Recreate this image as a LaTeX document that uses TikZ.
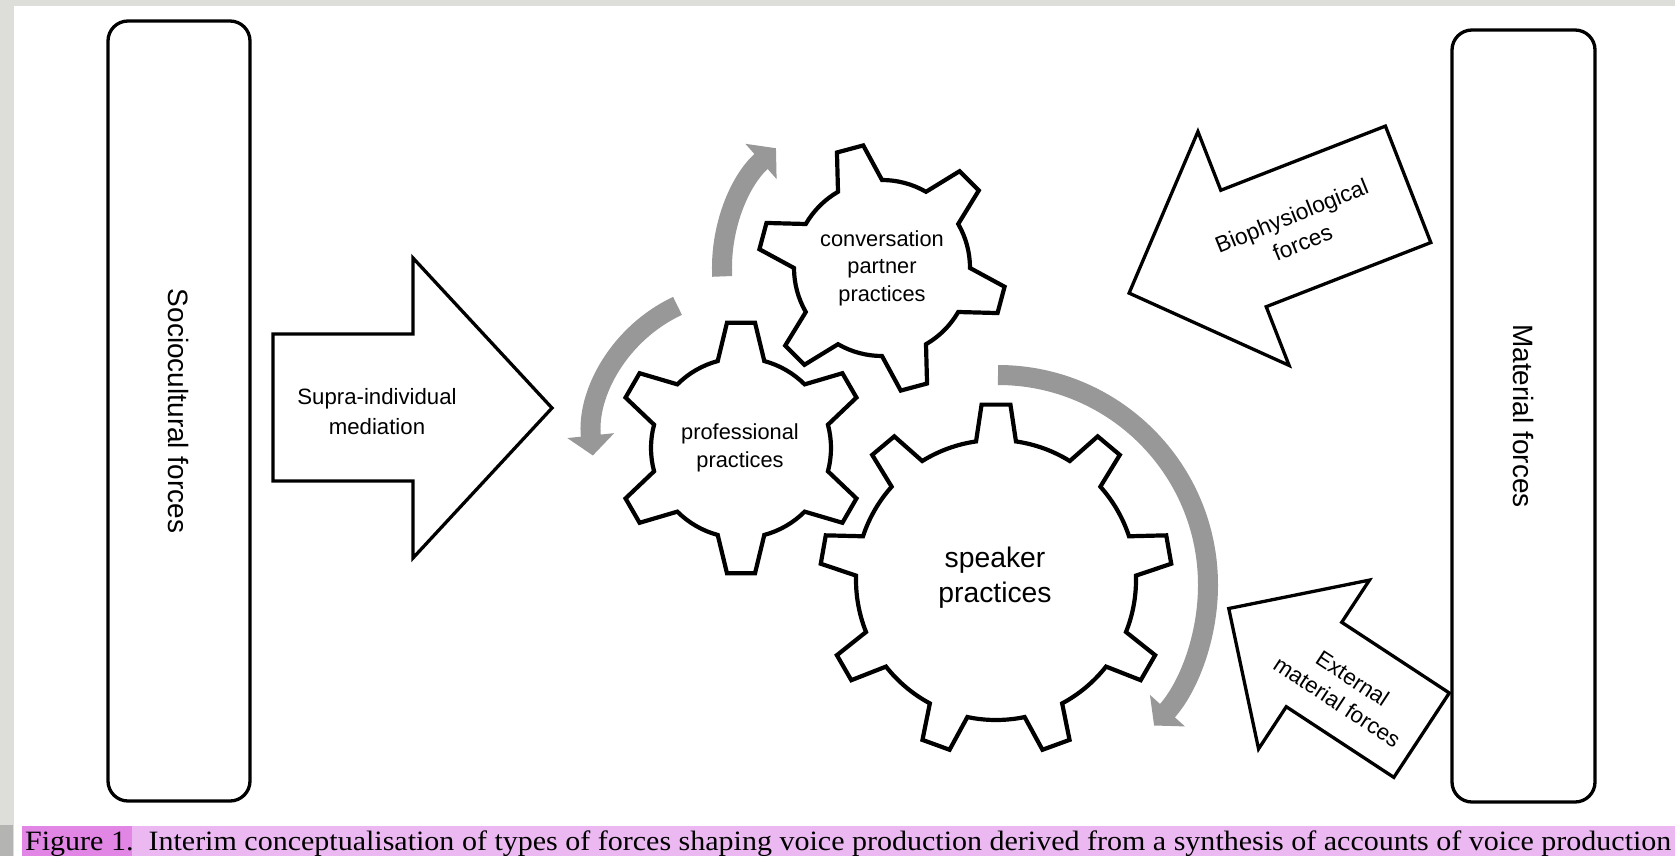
\documentclass[tikz,border=0pt]{standalone}
\usepackage{graphicx}
\usepackage{fontspec}
\setmainfont{Liberation Serif}
\newfontfamily\labelfont{Liberation Sans}
\usetikzlibrary{arrows.meta}

\definecolor{pagegray}{RGB}{221,222,217}
\definecolor{stripgray}{RGB}{180,180,178}
\definecolor{figpink}{RGB}{226,134,230}
\definecolor{cappink}{RGB}{236,184,242}
\definecolor{arcgray}{RGB}{152,152,152}

\begin{document}
\begin{tikzpicture}[x=1bp, y=1bp,
    forcebox/.style={draw, line width=3.3bp, rounded corners=20bp, inner sep=0pt, rotate=-90,
      font=\labelfont\fontsize{28bp}{34bp}\selectfont},
    blockarrow/.style={draw, line width=3.3bp, fill=white},
    cogline/.style={draw, line width=4.2bp, fill=white},
    turn/.style={draw=arcgray, line width=20bp, -{Triangle[width=46bp, length=20bp]}},
    gearlabel/.style={align=center, inner sep=0pt, font=\labelfont\fontsize{21.8bp}{27.5bp}\selectfont},
    arrowlabel/.style={align=center, inner sep=0pt, font=\labelfont\fontsize{22.7bp}{29bp}\selectfont},
    pics/cog/.style n args={6}{code={
      \path[cogline] ({#2-#6}:#5)
        \foreach \k [evaluate=\k as \ca using #2+(\k-1)*360/#1] in {1,...,#1}{
          -- ({\ca-#4}:#3) -- ({\ca+#4}:#3) -- ({\ca+#6}:#5)
          arc[start angle={\ca+#6}, end angle={\ca+360/#1-#6}, radius=#5]
        } -- cycle;
    }}]

    \useasboundingbox (0,0) rectangle (1675,-856);

    % page and caption band
    \fill[pagegray] (0,0) rectangle (1675,-856);
    \fill[white] (14,-6) rectangle (1675,-856);
    \fill[stripgray] (0,-825) rectangle (13,-856);
    \fill[figpink] (22,-826) rectangle (132,-856);
    \fill[cappink] (132,-826) rectangle (1675,-856);

    % outer forces
    \node[forcebox, minimum width=780bp, minimum height=142bp] (socio) at (179,-411) {Sociocultural forces};
    \node[forcebox, minimum width=772bp, minimum height=143bp] (material) at (1523.5,-416) {Material forces};

    % supra-individual arrow
    \draw[blockarrow] (273,-334) -- (413,-334) -- (413,-258) -- (552,-408) -- (413,-558) -- (413,-481) -- (273,-481) -- cycle;
    \node[arrowlabel, font=\labelfont\fontsize{22.2bp}{30bp}\selectfont] (supra) at (377,-412) {Supra-individual\\mediation};

    % biophysiological arrow
    \begin{scope}[shift={(1243.5,-248.5)}, rotate=201.3]
      \draw[blockarrow] (122.8,0) -- (0,125.5) -- (0,62.5) -- (-176.7,62.5) -- (-176.7,-62.5) -- (0,-62.5) -- (0,-125.5) -- cycle;
    \end{scope}
    \node[arrowlabel, rotate=22] (bio) at (1297,-229) {Biophysiological\\forces};

    % external material arrow
    \begin{scope}[shift={(1314,-664.5)}, rotate=146.7]
      \draw[blockarrow] (102,0) -- (0,101) -- (0,50.5) -- (-128.7,50.5) -- (-128.7,-50.5) -- (0,-50.5) -- (0,-101) -- cycle;
    \end{scope}
    \node[arrowlabel, rotate=-33.3, font=\labelfont\fontsize{22.3bp}{28bp}\selectfont] (external) at (1345,-690) {External\\material forces};

    % turning arrows
    \draw[turn] (998,-375) arc[start angle=90, end angle=-42, radius=210];
    \draw[turn] (677.5,-305.9) arc[start angle=115, end angle=186, radius=148];
    \draw[turn] (722.2,-276.4) arc[start angle=183, end angle=131.5, radius=160];

    % gears
    \pic at (741,-448) {cog={6}{90}{126}{6.4}{90}{15}};
    \pic at (882,-268) {cog={6}{105}{124}{6.3}{88}{15}};
    \pic at (996,-580) {cog={9}{90}{176}{4.7}{140}{8.2}};

    \node[gearlabel] (profgear) at (740,-448) {professional\\practices};
    \node[gearlabel] (convgear) at (882,-268) {conversation\\partner\\practices};
    \node[gearlabel, font=\labelfont\fontsize{28.3bp}{35bp}\selectfont] (speakgear) at (995,-578) {speaker\\practices};

    % caption
    \node[anchor=base west, inner sep=0pt, font=\fontsize{28bp}{34bp}\selectfont] (caption) at (25,-850)
      {\resizebox{1646bp}{\height}{Figure 1.\ \ Interim conceptualisation of types of forces shaping voice production derived from a synthesis of accounts of voice production}};

\end{tikzpicture}
\end{document}
